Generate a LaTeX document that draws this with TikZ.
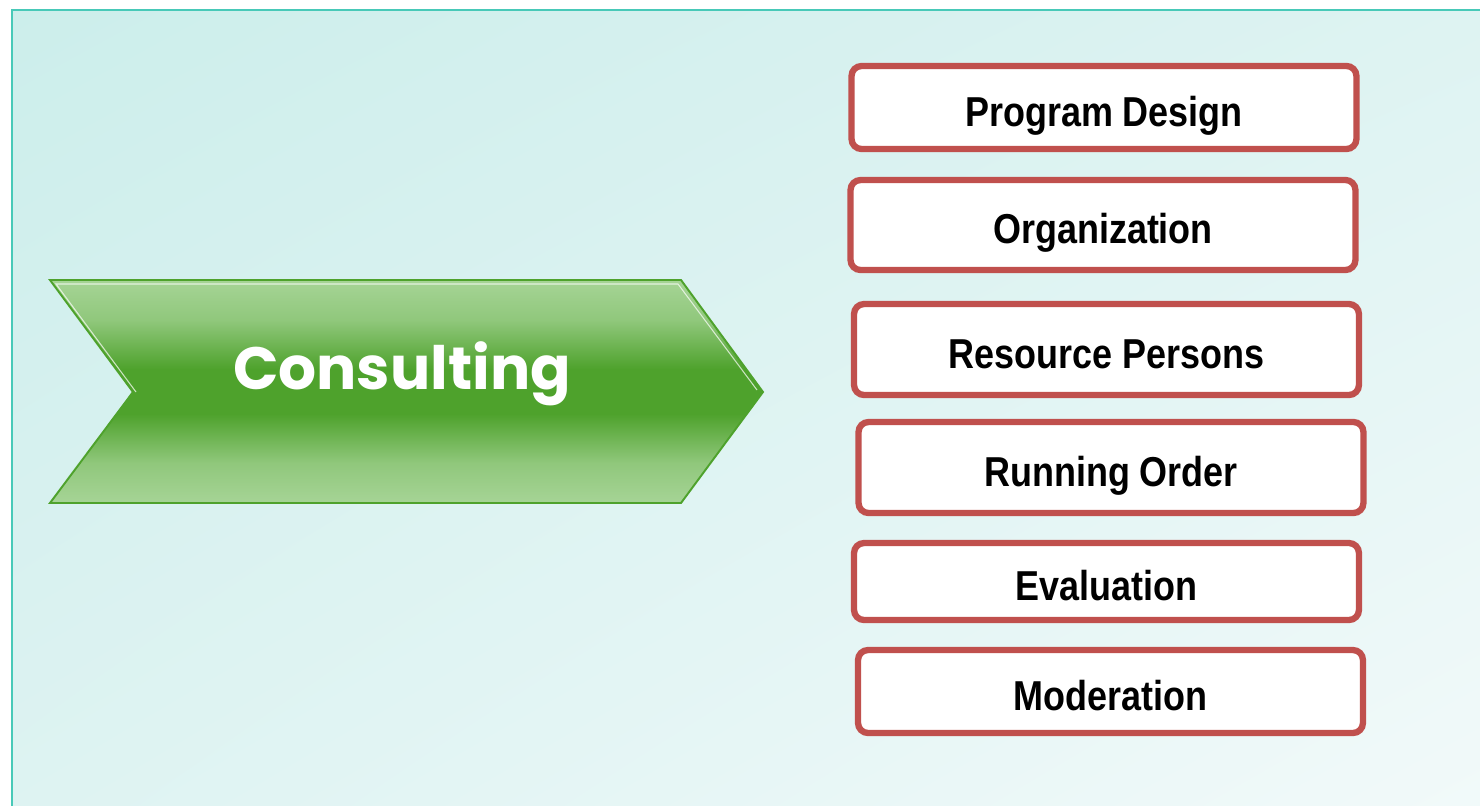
\documentclass[tikz,border=0pt]{standalone}
\usepackage{fontspec}
\setmainfont{Liberation Sans}
\newfontfamily\boxfont[FakeStretch=0.86]{Liberation Sans}
\newfontfamily\titlefont{Poppins}
\usepackage{tikz}
\usetikzlibrary{positioning}
\usetikzlibrary{shadings}

\definecolor{frameline}{HTML}{48C9B8}
\definecolor{bgA}{HTML}{CCEEEB}
\definecolor{bgB}{HTML}{DEF3F2}
\definecolor{bgC}{HTML}{F2FAFA}
\definecolor{arrowlight}{HTML}{A6D496}
\definecolor{arrowdark}{HTML}{4EA22C}
\definecolor{boxline}{HTML}{C0504D}

\pgfdeclareverticalshading{chevfill}{100bp}{color(0bp)=(arrowlight); color(25bp)=(arrowlight);
	color(34bp)=(arrowlight!75!arrowdark); color(45bp)=(arrowdark); color(55bp)=(arrowdark);
	color(66bp)=(arrowlight!75!arrowdark); color(75bp)=(arrowlight); color(100bp)=(arrowlight)}

\begin{document}
\begin{tikzpicture}[x=0.02cm,y=-0.02cm,
		item/.style={draw=boxline, line width=3.6pt, fill=white, rounded corners=0.2cm,
			minimum width=10.1cm, inner sep=0pt, text height=0.75cm, text depth=0cm,
			font=\boxfont\bfseries\fontsize{23.8}{26}\selectfont}]
		\useasboundingbox (0,0) rectangle (1480,805);
		\fill[white] (0,0) rectangle (1480,805);
		% background frame
		\shade[upper left=bgA, upper right=bgB, lower left=bgB, lower right=bgC] (12,10) rectangle (1495,820);
		\draw[frameline, line width=1.4pt] (1495,10) -- (12,10) -- (12,820);
		% chevron
		\shade[shading=chevfill]
			(50,280) -- (681,280) -- (763,392) -- (681,503) -- (50,503) -- (133,392) -- cycle;
		\draw[arrowdark, line width=1.1pt, line join=miter]
			(50,280) -- (681,280) -- (763,392) -- (681,503) -- (50,503) -- (133,392) -- cycle;
		\draw[white, opacity=0.7, line width=0.6pt] (136,392) -- (56,284) -- (678,284) -- (757,390);
		\node[text=white, font=\titlefont\bfseries\fontsize{34}{36}\selectfont] (consulting) at (402,374) {Consulting};
		% items
		\node[item, minimum height=1.66cm] (design) at (1104,107.5) {Program Design};
		\node[item, minimum height=1.8cm] (organization) at (1103,225) {Organization};
		\node[item, minimum height=1.82cm] (persons) at (1106.5,349.5) {Resource Persons};
		\node[item, minimum height=1.82cm] (order) at (1111,467.5) {Running Order};
		\node[item, minimum height=1.54cm] (evaluation) at (1106.5,581.5) {Evaluation};
		\node[item, minimum height=1.66cm] (moderation) at (1110.5,691.5) {Moderation};
	\end{tikzpicture}
\end{document}
